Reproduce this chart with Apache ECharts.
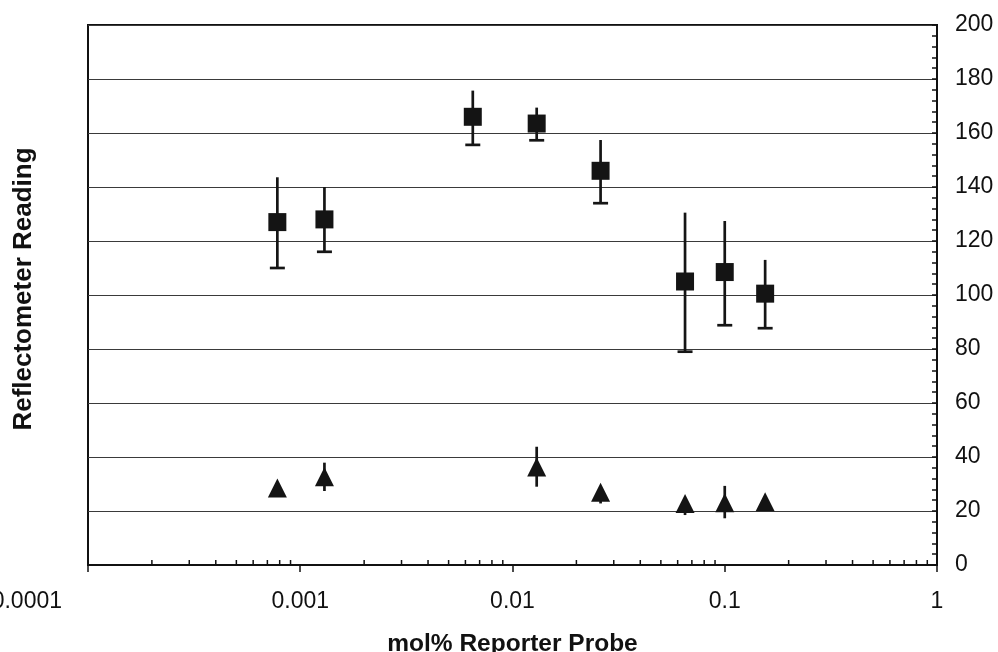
<!DOCTYPE html>
<html>
<head>
<meta charset="utf-8">
<script src="https://cdn.jsdelivr.net/npm/echarts@6/dist/echarts.min.js"></script>
<style>html,body{margin:0;padding:0;background:#fff}#c{width:998px;height:652px}</style>
</head>
<body>
<div id="c"></div>
<script>
// Squares series
var sqX  = [0.00078, 0.0013, 0.0065, 0.013, 0.026, 0.065, 0.1, 0.155];
var sqY  = [127, 128, 166, 163.5, 146, 105, 108.5, 100.5];
var sqHi = [143.6, 140, 175.7, 169.4, 157.4, 130.5, 127.4, 113];
var sqLo = [110, 116, 155.6, 157.3, 134, 79, 88.8, 87.7];
// Triangles series
var triX  = [0.00078, 0.0013, 0.013, 0.026, 0.065, 0.1, 0.155];
var triY  = [28.5, 32.7, 36.3, 26.9, 22.8, 23.1, 23.4];
var triHi = [28.5, 37.9, 43.8, 26.9, 22.8, 29.3, 23.4];
var triLo = [28.5, 27.4, 29.0, 22.8, 18.5, 17.3, 23.4];
// Axis settings
var xTicks = [0.0001, 0.001, 0.01, 0.1, 1];
var yMin = 0, yMax = 200, yStep = 20;

var minorX = [];
for (var d = 0; d < xTicks.length - 1; d++) {
  for (var m = 2; m <= 9; m++) minorX.push([xTicks[d] * m]);
}

function pts(xs, ys) { return xs.map(function (x, i) { return [x, ys[i]]; }); }
function errs(xs, lo, hi) { return xs.map(function (x, i) { return [x, lo[i], hi[i]]; }); }

function errRender(cap) {
  return function (params, api) {
    var x = api.value(0), lo = api.value(1), hi = api.value(2);
    var p1 = api.coord([x, hi]), p2 = api.coord([x, lo]);
    var children = [{
      type: 'line', shape: { x1: p1[0], y1: p1[1], x2: p2[0], y2: p2[1] },
      style: { stroke: '#151515', lineWidth: 2.7 }
    }];
    if (cap) {
      children.push({
        type: 'line', shape: { x1: p2[0] - 7.5, y1: p2[1], x2: p2[0] + 7.5, y2: p2[1] },
        style: { stroke: '#151515', lineWidth: 2.7 }
      });
    }
    return { type: 'group', children: children };
  };
}

var chart = echarts.init(document.getElementById('c'), null, { renderer: 'canvas' });
var labelFont = { fontFamily: 'Liberation Sans, Arial, sans-serif', fontSize: 23, color: '#111' };
chart.setOption({
  animation: false,
  backgroundColor: '#fff',
  grid: { left: 88, right: 61, top: 25, bottom: 87, containLabel: false, outerBoundsMode: 'none',
          show: true, borderColor: '#111', borderWidth: 2 },
  xAxis: {
    type: 'log', logBase: 10, min: xTicks[0], max: xTicks[xTicks.length - 1],
    name: 'mol% Reporter Probe', nameLocation: 'middle', nameGap: 67,
    nameTextStyle: { fontFamily: 'Liberation Sans, Arial, sans-serif', fontSize: 24.5, fontWeight: 'bold', color: '#111' },
    axisLine: { show: true, lineStyle: { color: '#111', width: 2 } },
    axisTick: { show: true, inside: false, length: 7, lineStyle: { color: '#111', width: 1.5 } },
    splitLine: { show: false },
    axisLabel: Object.assign({
      margin: 25, alignMinLabel: 'right',
      formatter: function (v) {
        var s = String(+v.toPrecision(6));
        if (Math.abs(v - 0.0001) < 1e-9) return '{a|0.0001}';
        return s;
      },
      rich: { a: { fontFamily: 'Liberation Sans, Arial, sans-serif', fontSize: 23, color: '#111', padding: [0, 26, 0, 0] } }
    }, labelFont)
  },
  yAxis: [{
    type: 'value', position: 'right', min: yMin, max: yMax, interval: yStep,
    axisLine: { show: true, lineStyle: { color: '#111', width: 2 } },
    axisTick: { show: true, inside: true, length: 5, lineStyle: { color: '#111', width: 1.5 } },
    minorTick: { show: true, splitNumber: 5, length: 5, lineStyle: { color: '#111', width: 1.5 } },
    splitLine: { show: true, lineStyle: { color: '#3a3a3a', width: 1.2 } },
    axisLabel: Object.assign({ margin: 18 }, labelFont)
  }, {
    type: 'value', position: 'left', min: yMin, max: yMax,
    name: 'Reflectometer Reading', nameLocation: 'middle', nameGap: 51, nameRotate: 90,
    nameTextStyle: { fontFamily: 'Liberation Sans, Arial, sans-serif', fontSize: 26, fontWeight: 'bold', color: '#111', padding: [0, 0, 0, 12] },
    axisLine: { show: false }, axisTick: { show: false }, axisLabel: { show: false }, splitLine: { show: false }
  }],
  series: [{
    type: 'custom', name: 'xminor', silent: true, z: 5,
    data: minorX,
    renderItem: function (params, api) {
      var p = api.coord([api.value(0), yMin]);
      return { type: 'line', shape: { x1: p[0], y1: p[1], x2: p[0], y2: p[1] - 5 }, style: { stroke: '#111', lineWidth: 1.5 } };
    },
    encode: { x: 0, y: -1 }
  }, {
    type: 'custom', name: 'sqErr', z: 2,
    data: errs(sqX, sqLo, sqHi), renderItem: errRender(true), encode: { x: 0, y: [1, 2] }
  }, {
    type: 'custom', name: 'triErr', z: 2,
    data: errs(triX, triLo, triHi), renderItem: errRender(false), encode: { x: 0, y: [1, 2] }
  }, {
    type: 'scatter', name: 'sq', z: 3, symbol: 'rect', symbolSize: 18,
    itemStyle: { color: '#141414', opacity: 1 }, data: pts(sqX, sqY)
  }, {
    type: 'scatter', name: 'tri', z: 3, symbol: 'triangle', symbolSize: [19, 19],
    itemStyle: { color: '#141414', opacity: 1 }, data: pts(triX, triY)
  }]
});
</script>
</body>
</html>
